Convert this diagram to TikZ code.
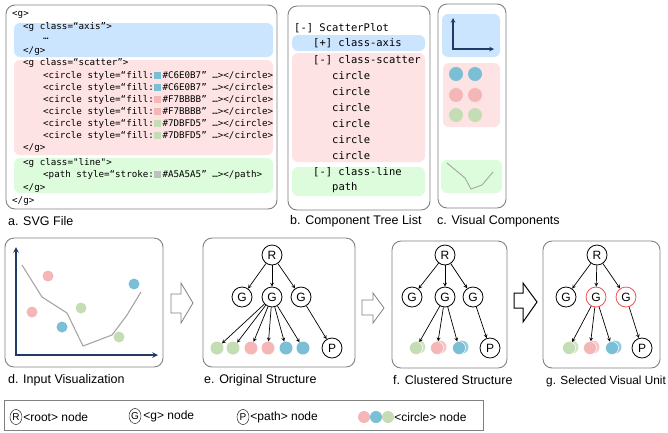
\documentclass[tikz,border=0pt]{standalone}
\usepackage{fontspec}
\setmainfont{Liberation Sans}
\setmonofont{DejaVu Sans Mono}
\usetikzlibrary{shapes.geometric,positioning}
\definecolor{bandblue}{HTML}{CCE5FF}
\definecolor{bandred}{HTML}{FDE3E3}
\definecolor{bandgreen}{HTML}{DDFCDC}
\definecolor{dotblue}{HTML}{7ABFD6}
\definecolor{dotred}{HTML}{F4B6B6}
\definecolor{dotgreen}{HTML}{C4DDB4}
\definecolor{axisnavy}{HTML}{1F3B66}
\definecolor{linegray}{HTML}{A5A5A5}
\definecolor{framegray}{HTML}{808080}
\definecolor{selred}{HTML}{F05050}

\begin{document}
\begin{tikzpicture}
[x=1pt,y=-1pt,>=stealth,
panel/.style = {draw = framegray, line width = 0.9pt, rounded corners = 9pt},
band/.style = {rounded corners = 6pt},
code/.style = {anchor = west, inner sep = 0pt, font = \fontsize{9.2}{10}\ttfamily},
tree/.style = {anchor = west, inner sep = 0pt, font = \fontsize{10.5}{12}\ttfamily},
caption/.style = {anchor = west, inner sep = 0pt, font = \fontsize{12.5}{14}\selectfont},
tnode/.style = {draw, circle, line width = 0.8pt, minimum size = 20pt, inner sep = 0pt, font = \fontsize{12}{14}\selectfont},
dot/.style = {circle, inner sep = 0pt, minimum size = 13pt},
cdot/.style = {dot, draw = white, line width = 0.5pt},
edge/.style = {->, line width = 0.7pt},
hollow/.style = {draw = framegray, fill = white, line width = 0.8pt},
legtext/.style = {inner sep = 0pt, font = \fontsize{12}{14}\selectfont},
]
\useasboundingbox (0,0) rectangle (668,432);

% a. SVG file
\draw[panel] (6,5) rectangle (277,209);
\fill[band, bandblue] (14,23) rectangle (273,57);
\fill[band, bandred] (14,60) rectangle (273,155);
\fill[band, bandgreen] (14,158) rectangle (273,193);
\node[code] (a0) at (12,15) {<g>};
\node[code] (a1) at (23,27) {<g class=“axis”>};
\node[code] (a2) at (43,39) {…};
\node[code] (a3) at (23,51) {</g>};
\node[code] (a4) at (23,63) {<g class=“scatter”>};
\node[code] (a5) at (43,76) {<circle style=“fill:\textcolor{dotblue}{\rule{7pt}{7pt}}\,\#C6E0B7” …></circle>};
\node[code] (a6) at (43,88) {<circle style=“fill:\textcolor{dotblue}{\rule{7pt}{7pt}}\,\#C6E0B7” …></circle>};
\node[code] (a7) at (43,100) {<circle style=“fill:\textcolor{dotred}{\rule{7pt}{7pt}}\,\#F7BBBB” …></circle>};
\node[code] (a8) at (43,112) {<circle style=“fill:\textcolor{dotred}{\rule{7pt}{7pt}}\,\#F7BBBB” …></circle>};
\node[code] (a9) at (43,124) {<circle style=“fill:\textcolor{dotgreen}{\rule{7pt}{7pt}}\,\#7DBFD5” …></circle>};
\node[code] (a10) at (43,136) {<circle style=“fill:\textcolor{dotgreen}{\rule{7pt}{7pt}}\,\#7DBFD5” …></circle>};
\node[code] (a11) at (23,148) {</g>};
\node[code] (a12) at (23,163) {<g class="line">};
\node[code] (a13) at (43,175) {<path style=“stroke:\textcolor{black!25}{\rule{7pt}{7pt}}\,\#A5A5A5” …></path>};
\node[code] (a14) at (23,188) {</g>};
\node[code] (a15) at (12,201) {</g>};
\node[caption] (capA) at (8,221) {a. SVG File};

% b. component tree list
\draw[panel] (288,6) rectangle (430,210);
\fill[band, bandblue] (292,35) rectangle (425,51);
\fill[band, bandred] (292,53) rectangle (425,162);
\fill[band, bandgreen] (292,167) rectangle (425,196);
\node[tree] (b0) at (294,28) {[-] ScatterPlot};
\node[tree] (b1) at (313,43) {[+] class-axis};
\node[tree] (b2) at (313,60) {[-] class-scatter};
\foreach \i in {1,...,6}
  \node[tree] (bc\i) at (332,60+16*\i) {circle};
\node[tree] (b3) at (313,172) {[-] class-line};
\node[tree] (b4) at (332,188) {path};
\node[caption] (capB) at (290,221) {b. Component Tree List};

% c. visual components
\draw[panel] (438,4) rectangle (506,208);
\fill[band, bandblue] (442,14) rectangle (500,57);
\draw[axisnavy, line width = 1.1pt, <->] (453,18) -- (453,49) -- (494,49);
\fill[band, bandred] (443,63) rectangle (500,127);
\node[dot, fill = dotblue, minimum size = 14pt] (c1) at (456,74) {};
\node[dot, fill = dotblue, minimum size = 14pt] (c2) at (475,74) {};
\node[dot, fill = dotred, minimum size = 14pt] (c3) at (456,95) {};
\node[dot, fill = dotred, minimum size = 14pt] (c4) at (475,95) {};
\node[dot, fill = dotgreen, minimum size = 14pt] (c5) at (456,115) {};
\node[dot, fill = dotgreen, minimum size = 14pt] (c6) at (475,115) {};
\fill[band, bandgreen] (441,160) rectangle (502,193);
\draw[linegray, line width = 0.9pt] (447,163) -- (465,178) -- (471,189) -- (482,185) -- (493,172);
\node[caption] (capC) at (437,221) {c. Visual Components};

% d. input visualization
\draw[panel] (5,238) rectangle (163,367);
\draw[axisnavy, line width = 1.5pt, <->] (16,247) -- (16,355) -- (158,355);
\draw[linegray, line width = 1.1pt] (22,265) -- (42,297) -- (67,313) -- (83,346) -- (112,335) -- (127,315) -- (141,292);
\node[dot, fill = dotred, minimum size = 11pt] (d1) at (48,276) {};
\node[dot, fill = dotred, minimum size = 11pt] (d2) at (32,312) {};
\node[dot, fill = dotblue, minimum size = 11pt] (d3) at (62,327) {};
\node[dot, fill = dotgreen, minimum size = 11pt] (d4) at (81,308) {};
\node[dot, fill = dotgreen, minimum size = 11pt] (d5) at (119,337) {};
\node[dot, fill = dotblue, minimum size = 11pt] (d6) at (134,284) {};
\node[caption] (capD) at (8,380) {d. Input Visualization};

\draw[hollow] (171,294) -- (181,294) -- (181,283) -- (193,303) -- (181,323) -- (181,313) -- (171,313) -- cycle;

% e. original structure
\draw[panel] (203,238) rectangle (355,367);
\node[tnode] (eR) at (272,255) {R};
\node[tnode] (eG1) at (242,297) {G};
\node[tnode] (eG2) at (272,297) {G};
\node[tnode] (eG3) at (301,297) {G};
\node[tnode] (eP) at (332,348) {P};
\foreach \x/\c [count=\i] in {217/dotgreen,233/dotgreen,251/dotred,268/dotred,286/dotblue,303/dotblue}
  \node[dot, fill = \c] (eC\i) at (\x,348) {};
\foreach \g in {eG1,eG2,eG3}
  \draw[edge] (eR) -- (\g);
\foreach \i in {1,...,6}
  \draw[edge] (eG2) -- (eC\i);
\draw[edge] (eG3) -- (eP);
\node[caption] (capE) at (204,380) {e. Original Structure};

\draw[hollow] (362,300) -- (373,300) -- (373,293) -- (384,308) -- (373,323) -- (373,315) -- (362,315) -- cycle;

% f. clustered structure
\draw[panel] (392,241) rectangle (507,368);
\node[tnode] (fR) at (445,255) {R};
\node[tnode] (fG1) at (412,297) {G};
\node[tnode] (fG2) at (445,297) {G};
\node[tnode] (fG3) at (473,297) {G};
\node[tnode] (fP) at (490,348) {P};
\foreach \x/\c [count=\i] in {416/dotgreen,437/dotred,459/dotblue}{
  \fill[\c!80] (\x+3,347) circle (6.5);
  \node[cdot, fill = \c] (fC\i) at (\x,348) {};
}
\foreach \g in {fG1,fG2,fG3}
  \draw[edge] (fR) -- (\g);
\foreach \i in {1,2,3}
  \draw[edge] (fG2) -- (fC\i);
\draw[edge] (fG3) -- (fP);
\node[caption] (capF) at (393,380) {f. Clustered Structure};

\draw[hollow, draw = black, line width = 1pt] (514,293) -- (523,293) -- (523,283) -- (537,302) -- (523,322) -- (523,308) -- (514,308) -- cycle;

% g. selected visual units
\draw[panel] (543,241) rectangle (660,368);
\node[tnode] (gR) at (597,255) {R};
\node[tnode] (gG1) at (566,297) {G};
\node[tnode, draw = selred] (gG2) at (596,297) {G};
\node[tnode, draw = selred] (gG3) at (626,297) {G};
\node[tnode] (gP) at (642,348) {P};
\foreach \x/\c [count=\i] in {569/dotgreen,590/dotred,612/dotblue}{
  \fill[\c!80] (\x+3,347) circle (6.5);
  \node[cdot, fill = \c] (gC\i) at (\x,348) {};
}
\foreach \g in {gG1,gG2,gG3}
  \draw[edge] (gR) -- (\g);
\foreach \i in {1,2,3}
  \draw[edge] (gG2) -- (gC\i);
\draw[edge] (gG3) -- (gP);
\node[caption, font = \fontsize{11.8}{14}\selectfont] (capG) at (546,381) {g. Selected Visual Unit};

% legend
\draw[framegray, line width = 0.8pt] (4,400) rectangle (483,430);
\node[draw, ellipse, minimum width = 12pt, minimum height = 15pt, inner sep = 0pt, font = \fontsize{10}{12}\selectfont] (legR) at (16,417) {R};
\node[legtext, right = 1pt of legR] (legRt) {<root> node};
\node[draw, ellipse, minimum width = 12pt, minimum height = 15pt, inner sep = 0pt, font = \fontsize{10}{12}\selectfont] (legG) at (135,416) {G};
\node[legtext, right = 2pt of legG] (legGt) {<g> node};
\node[draw, ellipse, minimum width = 12pt, minimum height = 15pt, inner sep = 0pt, font = \fontsize{10}{12}\selectfont] (legP) at (243,417) {P};
\node[legtext, right = 1pt of legP] (legPt) {<path> node};
\node[dot, fill = dotred, minimum size = 12pt] (legC1) at (364,417) {};
\node[dot, fill = dotblue, minimum size = 12pt] (legC2) at (376,417) {};
\node[dot, fill = dotgreen, minimum size = 12pt] (legC3) at (388,417) {};
\node[legtext, right = 0pt of legC3] (legCt) {<circle> node};
\end{tikzpicture}
\end{document}
